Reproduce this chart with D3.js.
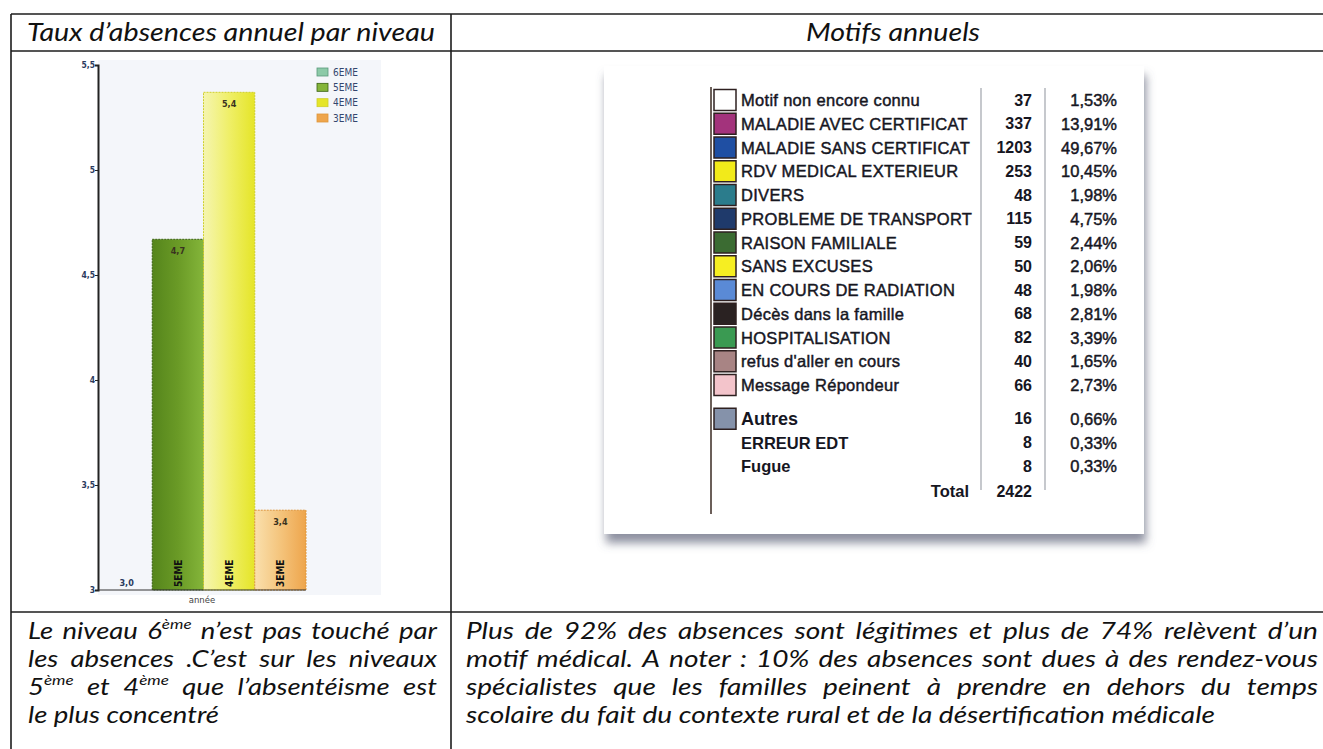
<!DOCTYPE html>
<html><head><meta charset="utf-8">
<script src="https://cdn.jsdelivr.net/npm/d3@7"></script>
<style>body{margin:0;background:#fff;} svg{display:block}</style>
</head><body>
<svg id="c" width="1323" height="749"></svg>
<script>
// ---------- DATA ----------
const levels = ["6EME", "5EME", "4EME", "3EME"];
const rates = [3.0, 4.67, 5.37, 3.38];
const rateTicks = [3, 3.5, 4, 4.5, 5, 5.5];

const motifs = ["Motif non encore connu", "MALADIE AVEC CERTIFICAT", "MALADIE SANS CERTIFICAT",
  "RDV MEDICAL EXTERIEUR", "DIVERS", "PROBLEME DE TRANSPORT", "RAISON FAMILIALE", "SANS EXCUSES",
  "EN COURS DE RADIATION", "Décès dans la famille", "HOSPITALISATION", "refus d'aller en cours",
  "Message Répondeur"];
const motifCounts = [37, 337, 1203, 253, 48, 115, 59, 50, 48, 68, 82, 40, 66];
const motifPercents = [1.53, 13.91, 49.67, 10.45, 1.98, 4.75, 2.44, 2.06, 1.98, 2.81, 3.39, 1.65, 2.73];
const otherLabel = "Autres";
const otherCount = 16;
const otherPercent = 0.66;
const otherDetails = ["ERREUR EDT", "Fugue"];
const otherDetailCounts = [8, 8];
const otherDetailPercents = [0.33, 0.33];
const totalCount = 2422;

// ---------- STYLES ----------
const levelGradients = [
  ["#a8dcc0", "#8ccaa8"],
  ["#55851c", "#6a9a26", "#84b53a"],
  ["#f5f5b0", "#efef68", "#e5e528"],
  ["#fae0ad", "#f4c47c", "#eea54c"]
];
const levelStrokes = ["#5a9a7a", "#3a6212", "#cfcf2a", "#de963a"];
const motifColors = ["#ffffff", "#a3337c", "#1f4fa3", "#f2ea1a", "#2b7c8c", "#1f3a6b", "#3b6b32",
  "#f6ee22", "#5a8ad6", "#2a2222", "#3a9a52", "#a88484", "#f3c4cb"];
const otherColor = "#8592aa";

const fr = d3.formatLocale({decimal: ",", thousands: " ", grouping: [3], currency: ["", " €"]});
const fmt1 = fr.format(".1f");
const fmt2 = fr.format(".2f");
const fmtTick = fr.format("~g");

const svg = d3.select("#c");
const defs = svg.append("defs");

// ---------- TABLE FRAME ----------
const frame = svg.append("g").attr("stroke", "#1c1c1c").attr("stroke-width", 1.6);
frame.append("line").attr("x1", 11).attr("x2", 1323).attr("y1", 14).attr("y2", 14);
frame.append("line").attr("x1", 11).attr("x2", 1323).attr("y1", 51).attr("y2", 51);
frame.append("line").attr("x1", 11).attr("x2", 1323).attr("y1", 612).attr("y2", 612);
frame.append("line").attr("x1", 11).attr("x2", 11).attr("y1", 14).attr("y2", 749);
frame.append("line").attr("x1", 451).attr("x2", 451).attr("y1", 14).attr("y2", 749);

const FONT_IT = "Lato, 'Open Sans', sans-serif";

function headText(xc, txt, width) {
  const t = svg.append("text").attr("x", xc).attr("y", 41).attr("text-anchor", "middle")
    .attr("font-family", FONT_IT).attr("font-style", "italic").attr("font-size", 25).attr("fill", "#111")
    .text(txt);
  t.attr("textLength", width).attr("lengthAdjust", "spacingAndGlyphs");
  return t;
}
headText(231, "Taux d’absences annuel par niveau", 408);
headText(893, "Motifs annuels", 174);

// ---------- LEFT BAR CHART ----------
const x = d3.scaleBand().domain(levels).range([101, 306]).padding(0);
const y = d3.scaleLinear().domain([3, 5.5]).range([590, 65]);

svg.append("rect").attr("x", 98).attr("y", 60).attr("width", 283).attr("height", 535).attr("fill", "#f4f6fa");

levels.forEach((l, i) => {
  const g = defs.append("linearGradient").attr("id", "lg" + i).attr("x1", "0%").attr("x2", "100%");
  const st = levelGradients[i];
  st.forEach((c, j) => g.append("stop").attr("offset", (j / (st.length - 1) * 100) + "%").attr("stop-color", c));
});

const chart = svg.append("g");
chart.selectAll("rect.bar").data(levels).join("rect").attr("class", "bar")
  .attr("x", d => x(d)).attr("width", x.bandwidth())
  .attr("y", (d, i) => y(rates[i])).attr("height", (d, i) => y(3) - y(rates[i]))
  .attr("fill", (d, i) => `url(#lg${i})`).attr("stroke", (d, i) => levelStrokes[i])
  .attr("stroke-width", 1).attr("stroke-dasharray", "2,1");

chart.selectAll("text.val").data(levels).join("text").attr("class", "val")
  .attr("x", d => x(d) + x.bandwidth() / 2)
  .attr("y", (d, i) => rates[i] > 3.05 ? y(rates[i]) + 15 : y(3) - 4)
  .attr("text-anchor", "middle").attr("font-family", "'DejaVu Sans Condensed', 'DejaVu Sans', sans-serif")
  .attr("font-weight", "bold").attr("font-size", 9).attr("fill", (d, i) => i === 0 ? "#2b3b5e" : "#3a3320")
  .text((d, i) => fmt1(rates[i]));

chart.selectAll("text.lev").data(levels.filter((d, i) => rates[i] > 3.2)).join("text").attr("class", "lev")
  .attr("transform", d => `translate(${x(d) + x.bandwidth() / 2 + 4},${y(3) - 3}) rotate(-90)`)
  .attr("font-family", "'DejaVu Sans Condensed', 'DejaVu Sans', sans-serif").attr("font-weight", "bold")
  .attr("font-size", 10).attr("fill", "#111").text(d => d);

const yAxis = svg.append("g").attr("transform", "translate(98,0)")
  .call(d3.axisLeft(y).tickValues(rateTicks).tickSize(3).tickFormat(fmtTick));
yAxis.select(".domain").attr("stroke", "#222").attr("stroke-width", 2);
yAxis.selectAll(".tick line").attr("stroke", "#222");
yAxis.selectAll(".tick text").attr("font-family", "'DejaVu Sans Condensed', 'DejaVu Sans', sans-serif")
  .attr("font-weight", "bold").attr("font-size", 8.5).attr("fill", "#2b3b5e").attr("x", -3);

svg.append("line").attr("x1", 98).attr("x2", x.range()[1]).attr("y1", y(3)).attr("y2", y(3))
  .attr("stroke", "#333").attr("stroke-width", 1);

svg.append("text").attr("x", 202).attr("y", 603).attr("text-anchor", "middle")
  .attr("font-family", "'DejaVu Sans', sans-serif").attr("font-size", 8.5).attr("fill", "#444").text("année");

const legY = d3.scalePoint().domain(levels).range([72, 118]);
const leg = svg.append("g");
leg.selectAll("rect").data(levels).join("rect")
  .attr("x", 317).attr("y", d => legY(d) - 4).attr("width", 11).attr("height", 8)
  .attr("fill", (d, i) => levelGradients[i][levelGradients[i].length - 1])
  .attr("stroke", (d, i) => levelStrokes[i]).attr("stroke-width", 0.8);
leg.selectAll("text").data(levels).join("text")
  .attr("x", 333).attr("y", d => legY(d)).attr("dominant-baseline", "central")
  .attr("font-family", "'DejaVu Sans Condensed', 'DejaVu Sans', sans-serif").attr("font-size", 10)
  .attr("fill", "#34466e").text(d => d);

// ---------- RIGHT TABLE CARD ----------
const fl = defs.append("filter").attr("id", "shadow").attr("x", "-10%").attr("y", "-10%")
  .attr("width", "125%").attr("height", "130%");
fl.append("feDropShadow").attr("dx", 2).attr("dy", 9).attr("stdDeviation", 5)
  .attr("flood-color", "#5f6478").attr("flood-opacity", 0.7);
svg.append("rect").attr("x", 604).attr("y", 66).attr("width", 540).attr("height", 468)
  .attr("fill", "#fff").attr("filter", "url(#shadow)");

const rowY = d3.scaleLinear().domain([0, 1]).range([100, 123.75]);
const yOf = i => rowY(i) + (i >= 13 ? 10 : 0) + (i >= 16 ? 1 : 0);

const card = svg.append("g").attr("font-family", "'Liberation Sans', Arial, sans-serif");
card.append("line").attr("x1", 711).attr("x2", 711).attr("y1", 87).attr("y2", 514)
  .attr("stroke", "#3a2a22").attr("stroke-width", 1.5);
[981, 1045].forEach(xx => card.append("line").attr("x1", xx).attr("x2", xx).attr("y1", 88).attr("y2", 490)
  .attr("stroke", "#a0a4ac").attr("stroke-width", 1.2));

const rows = motifs.map((m, i) => ({label: m, count: motifCounts[i], pct: motifPercents[i], color: motifColors[i], i}));
rows.push({label: otherLabel, count: otherCount, pct: otherPercent, color: otherColor, i: 13, big: true});
otherDetails.forEach((m, k) => rows.push({label: m, count: otherDetailCounts[k], pct: otherDetailPercents[k], color: null, i: 14 + k, sub: true}));

const rg = card.selectAll("g.row").data(rows).join("g").attr("class", "row")
  .attr("transform", d => `translate(0,${yOf(d.i)})`);
rg.filter(d => d.color).append("rect").attr("x", 714).attr("y", -10.5).attr("width", 22).attr("height", 21)
  .attr("fill", d => d.color).attr("stroke", "#2e2020").attr("stroke-width", 1.5);
rg.append("text").attr("x", 741).attr("dominant-baseline", "central")
  .attr("font-size", d => d.big ? 18 : 16.5).attr("font-weight", d => (d.big || d.sub) ? "bold" : "normal")
  .attr("fill", "#16161f").attr("stroke", d => (d.big || d.sub) ? "none" : "#16161f").attr("stroke-width", 0.45)
  .attr("letter-spacing", d => (d.big || d.sub) ? 0 : 0.3)
  .text(d => d.label);
rg.append("text").attr("x", 1032).attr("text-anchor", "end").attr("dominant-baseline", "central")
  .attr("font-size", 16).attr("font-weight", "bold").attr("fill", "#16161f").text(d => d.count);
rg.append("text").attr("x", 1117).attr("text-anchor", "end").attr("dominant-baseline", "central")
  .attr("font-size", 16.5).attr("fill", "#16161f").attr("stroke", "#16161f").attr("stroke-width", 0.45)
  .text(d => fmt2(d.pct) + "%");

card.append("text").attr("x", 969).attr("y", yOf(16)).attr("text-anchor", "end").attr("dominant-baseline", "central")
  .attr("font-size", 16.5).attr("font-weight", "bold").attr("fill", "#16161f").text("Total");
card.append("text").attr("x", 1032).attr("y", yOf(16)).attr("text-anchor", "end").attr("dominant-baseline", "central")
  .attr("font-size", 16).attr("font-weight", "bold").attr("fill", "#16161f").text(totalCount);

// ---------- PARAGRAPHS ----------
const PSIZE = 23;
function appendWord(parent, w, fs) {
  const parts = w.split("^");
  const a = parent.append("tspan").text(parts[0]);
  let b = null;
  if (parts[1]) b = parent.append("tspan").attr("font-size", fs * 0.62).attr("dy", -fs * 0.42).text(parts[1]);
  return [a, b];
}
function measureWord(w, fs) {
  const t = svg.append("text").attr("font-family", FONT_IT).attr("font-style", "italic").attr("font-size", fs);
  appendWord(t, w, fs);
  const n = t.node().getComputedTextLength();
  t.remove(); return n;
}
const spaceW = (() => {
  const s = svg.append("text").attr("font-family", FONT_IT).attr("font-style", "italic")
    .attr("font-size", PSIZE).text("a a");
  const a = s.node().getComputedTextLength();
  s.text("aa"); const b = s.node().getComputedTextLength();
  s.remove(); return a - b;
})();
function naturalWidth(line) {
  const ws = line.split(" ");
  return d3.sum(ws, w => measureWord(w, PSIZE)) + spaceW * (ws.length - 1);
}
function paragraph(g, lines, width, y0, lh) {
  lines.forEach((line, li) => {
    const words = line.split(" ");
    const wl = words.map(w => measureWord(w, PSIZE));
    const justify = li < lines.length - 1;
    const gap = justify ? (width - d3.sum(wl)) / (words.length - 1) : spaceW;
    const t = g.append("text").attr("y", y0 + li * lh).attr("font-family", FONT_IT)
      .attr("font-style", "italic").attr("font-size", PSIZE).attr("fill", "#111");
    let cx = 0;
    words.forEach((w, k) => {
      const [a, b] = appendWord(t, w, PSIZE);
      a.attr("x", cx).attr("y", y0 + li * lh);
      cx += wl[k] + gap;
    });
  });
}

const leftLines = ["Le niveau 6^ème n’est pas touché par", "les absences .C’est sur les niveaux",
  "5^ème et 4^ème que l’absentéisme est", "le plus concentré"];
const leftMax = d3.max(leftLines.slice(0, 3), naturalWidth);
const kl = 392 / leftMax;
const gl = svg.append("g").attr("transform", `translate(28,0) scale(${kl},1)`);
paragraph(gl, leftLines, 409 / kl, 639, 28);

const rightLines = ["Plus de 92% des absences sont légitimes et plus de 74% relèvent d’un",
  "motif médical. A noter : 10% des absences sont dues à des rendez-vous",
  "spécialistes que les familles peinent à prendre en dehors du temps",
  "scolaire du fait du contexte rural et de la désertification médicale"];
const kr = 749 / naturalWidth(rightLines[3]);
const gr = svg.append("g").attr("transform", `translate(466,0) scale(${kr},1)`);
paragraph(gr, rightLines, 852 / kr, 639, 28);
</script>
</body></html>
